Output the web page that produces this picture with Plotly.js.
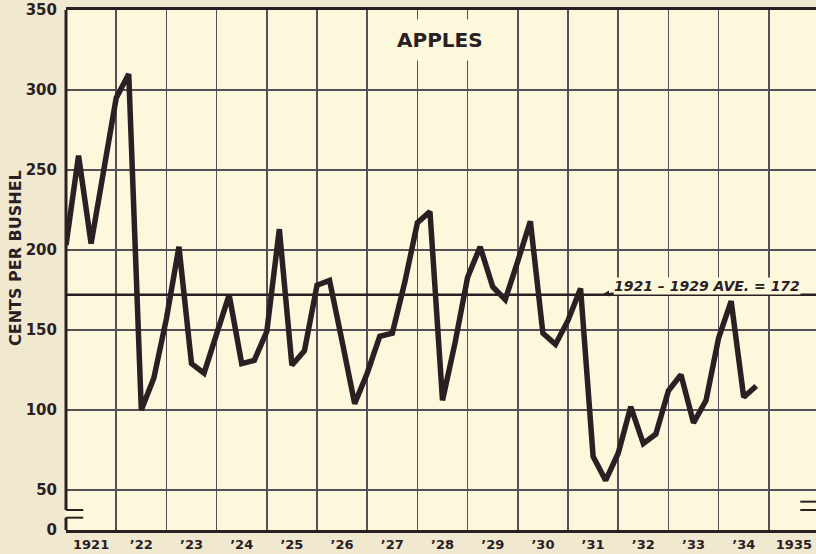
<!DOCTYPE html>
<html>
<head>
<meta charset="utf-8">
<script src="https://cdn.plot.ly/plotly-3.0.1.min.js"></script>
<style>
  html, body { margin: 0; padding: 0; background: #f0e9d0; }
  #chart { width: 816px; height: 554px; }
</style>
</head>
<body>
<div id="chart"></div>
<script>
'use strict';

// Quarterly farm price of apples, cents per bushel
const years = [1921, 1922, 1923, 1924, 1925, 1926, 1927, 1928, 1929, 1930, 1931, 1932, 1933, 1934];
const quarters = [0, 0.25, 0.5, 0.75];
const prices = [
  203, 259, 204, 252,
  295, 310, 100, 120,
  157, 202, 129, 123,
  148, 172, 129, 131,
  149, 213, 128, 137,
  178, 181, 143, 104,
  123, 146, 148, 180,
  217, 224, 106, 142,
  183, 202, 177, 169,
  193, 218, 148, 141,
  156, 176, 71, 56,
  73, 102, 79, 85,
  112, 122, 92, 106,
  145, 168, 108, 115
];

const average = 172;
const averageLabel = '1921 \u2013 1929 AVE. = 172';

const xTickYears = [1921, 1922, 1923, 1924, 1925, 1926, 1927, 1928, 1929, 1930, 1931, 1932, 1933, 1934, 1935];
const xTickText = ['1921', '\u201922', '\u201923', '\u201924', '\u201925', '\u201926', '\u201927', '\u201928',
  '\u201929', '\u201930', '\u201931', '\u201932', '\u201933', '\u201934', '1935'];

// the "0" sits just under the axis break, so it is drawn at 25 on the scale
const yTickVals = [25, 50, 100, 150, 200, 250, 300, 350];
const yTickText = ['0', '50', '100', '150', '200', '250', '300', '350'];

const ink = '#2a2023';
const gridInk = '#554f57';
const paper = '#f0e9d0';
const field = '#fbf8dc';
const font = 'DejaVu Sans, sans-serif';

const x = [];
years.forEach(yr => quarters.forEach(q => x.push(yr + q)));

const data = [{
  x: x,
  y: prices,
  type: 'scatter',
  mode: 'lines',
  line: {color: ink, width: 5.5},
  hoverinfo: 'none'
}];

const breakLine = (x0, x1, y0, y1, w) => ({
  type: 'line', xref: 'paper', yref: 'y', x0, x1, y0, y1,
  line: {color: ink, width: w}, layer: 'above'
});

const shapes = [
  // average line
  {
    type: 'line', xref: 'paper', yref: 'y',
    x0: 0, x1: 1, y0: average, y1: average,
    line: {color: ink, width: 2.5}
  },
  // left axis, broken between 0 and 50
  breakLine(0, 0, 37.5, 350, 3),
  breakLine(0, 0, 25, 32.7, 3),
  breakLine(0, 0.023, 37.5, 37.5, 2),
  breakLine(0, 0.023, 32.7, 32.7, 2),
  // right break mark
  breakLine(0.979, 1, 42.7, 42.7, 2),
  breakLine(0.979, 1, 37.5, 37.5, 2)
];

const layout = {
  width: 816,
  height: 554,
  paper_bgcolor: paper,
  plot_bgcolor: field,
  showlegend: false,
  margin: {l: 66, r: 0, t: 10, b: 24, pad: 0},
  xaxis: {
    range: [1921, 1935.94],
    tickmode: 'array',
    tickvals: xTickYears.map(yr => yr + 0.5),
    ticktext: xTickText,
    ticks: '',
    ticklabelstandoff: 0,
    showgrid: false,
    zeroline: false,
    showline: true,
    mirror: true,
    linecolor: ink,
    linewidth: 3,
    tickfont: {family: font, size: 13, color: ink, weight: 'bold'},
    minor: {
      tickmode: 'linear',
      tick0: 1921,
      dtick: 1,
      ticks: '',
      showgrid: true,
      gridcolor: gridInk,
      gridwidth: 1.5
    }
  },
  yaxis: {
    range: [25, 350],
    tickmode: 'array',
    tickvals: yTickVals,
    ticktext: yTickText,
    ticks: '',
    ticklabelstandoff: 8,
    showgrid: true,
    gridcolor: gridInk,
    gridwidth: 1.5,
    zeroline: false,
    showline: false,
    tickfont: {family: font, size: 15, color: ink, weight: 'bold'}
  },
  shapes,
  annotations: [{
    text: 'APPLES',
    xref: 'paper', yref: 'paper',
    x: 0.499, y: 0.942,
    xanchor: 'center', yanchor: 'middle',
    showarrow: false,
    bgcolor: field,
    borderpad: 8,
    font: {family: font, size: 20, color: ink, weight: 'bold'}
  }, {
    text: averageLabel,
    xref: 'x', yref: 'y',
    x: 1931.7, y: average + 0.5,
    ax: 104, ay: -8,
    showarrow: true,
    arrowhead: 2,
    arrowsize: 0.8,
    arrowwidth: 1.5,
    arrowcolor: ink,
    standoff: 0,
    bgcolor: field,
    borderpad: 0,
    font: {family: font, size: 14, color: ink, weight: 'bold', style: 'italic'}
  }, {
    text: 'CENTS PER BUSHEL',
    xref: 'paper', yref: 'paper',
    x: -0.068, y: 0.523,
    xanchor: 'center', yanchor: 'middle',
    textangle: -90,
    showarrow: false,
    font: {family: font, size: 16, color: ink, weight: 'bold'}
  }]
};

Plotly.newPlot('chart', data, layout, {displayModeBar: false, staticPlot: true});
</script>
</body>
</html>
